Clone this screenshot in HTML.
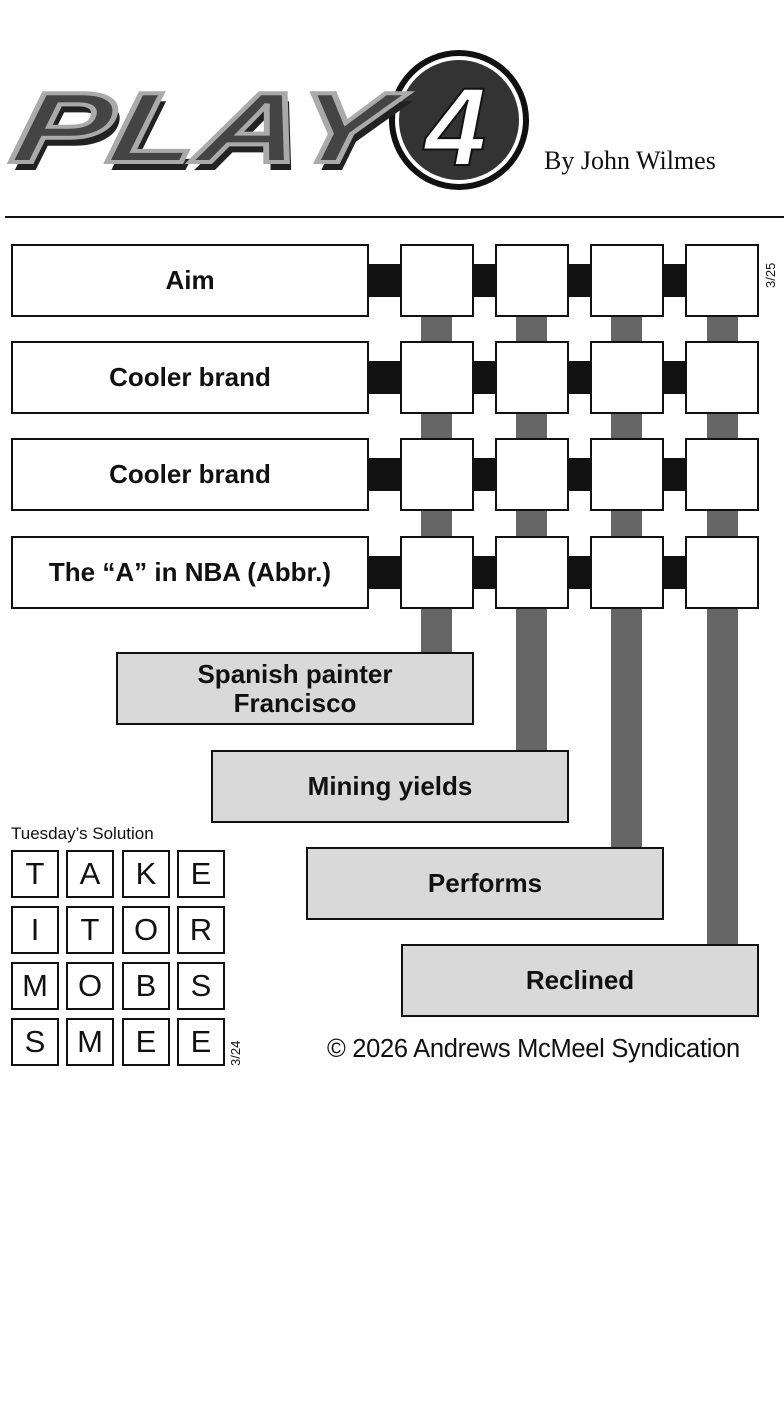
<!DOCTYPE html>
<html><head><meta charset="utf-8"><style>
body{margin:0;width:784px;height:1423px;background:#fff;position:relative;overflow:hidden;font-family:"Liberation Sans",sans-serif}
.a{position:absolute;box-sizing:border-box}
.clue{border:2.5px solid #111;background:#fff;display:flex;align-items:center;justify-content:center;font-weight:bold;font-size:26px;color:#111;text-align:center;line-height:29px}
.sq{border:2.5px solid #111;background:#fff}
.blk{background:#111}
.bar{background:#666}
.ans{border:2.5px solid #111;background:#d9d9d9;display:flex;align-items:center;justify-content:center;font-weight:bold;font-size:26px;color:#111;text-align:center;line-height:29px}
.sol{border:2.5px solid #111;background:#fff;display:flex;align-items:center;justify-content:center;font-size:31px;color:#111;width:48px;height:48px}
</style></head><body>
<svg class="a" style="left:0;top:40px" width="560" height="165">
 <circle cx="459" cy="80" r="70" fill="#111"/>
 <circle cx="459" cy="80" r="64" fill="#fff"/>
 <circle cx="459" cy="80" r="60" fill="#333"/>
 <text x="10" y="130" font-family="Liberation Sans" font-weight="bold" font-style="italic" font-size="100" fill="#222" transform="skewX(-12)" textLength="375" lengthAdjust="spacingAndGlyphs" dx="30">PLAY</text>
 <text x="4" y="122" font-family="Liberation Sans" font-weight="bold" font-style="italic" font-size="100" fill="#444" stroke="#aaa" stroke-width="4" transform="skewX(-12)" textLength="375" lengthAdjust="spacingAndGlyphs" dx="30">PLAY</text>
 <text x="425" y="125" font-family="Liberation Sans" font-weight="bold" font-style="italic" font-size="110" fill="#fff" stroke="#111" stroke-width="2">4</text>
</svg>
<div class="a" style="left:544px;top:146px;font-family:'Liberation Serif',serif;font-size:26px;color:#111">By John Wilmes</div>
<div class="a" style="left:5px;top:216px;width:779px;height:2px;background:#111"></div>

<div class="a bar" style="left:421px;top:300px;width:31px;height:354px"></div>
<div class="a bar" style="left:516px;top:300px;width:31px;height:452px"></div>
<div class="a bar" style="left:611px;top:300px;width:31px;height:549px"></div>
<div class="a bar" style="left:707px;top:300px;width:31px;height:646px"></div>

<div id="rows"></div>
<script>
var ys=[244,341,438,536],cl=['Aim','Cooler brand','Cooler brand','The “A” in NBA (Abbr.)'],xs=[400,495,590,685],h='';
ys.forEach(function(y,i){
 h+='<div class="a blk" style="left:365px;top:'+(y+20)+'px;width:322px;height:33px"></div>';
 h+='<div class="a clue" style="left:11px;top:'+y+'px;width:358px;height:73px">'+cl[i]+'</div>';
 xs.forEach(function(x){h+='<div class="a sq" style="left:'+x+'px;top:'+y+'px;width:74px;height:73px"></div>';});
});
document.getElementById('rows').outerHTML=h;
</script>
<div class="a" style="left:763px;top:288px;font-size:13px;color:#111;transform:rotate(-90deg);transform-origin:left top">3/25</div>

<div class="a ans" style="left:116px;top:652px;width:358px;height:73px">Spanish painter<br>Francisco</div>
<div class="a ans" style="left:211px;top:750px;width:358px;height:73px">Mining yields</div>
<div class="a ans" style="left:306px;top:847px;width:358px;height:73px">Performs</div>
<div class="a ans" style="left:401px;top:944px;width:358px;height:73px">Reclined</div>

<div class="a" style="left:11px;top:824px;font-size:17px;color:#111">Tuesday’s Solution</div>
<div id="sol"></div>
<script>
var L=['TAKE','ITOR','MOBS','SMEE'],sx=[11,66,122,177],sy=[850,906,962,1018],s='';
L.forEach(function(w,r){for(var c=0;c<4;c++)s+='<div class="a sol" style="left:'+sx[c]+'px;top:'+sy[r]+'px">'+w[c]+'</div>';});
document.getElementById('sol').outerHTML=s;
</script>
<div class="a" style="left:228px;top:1066px;font-size:13px;color:#111;transform:rotate(-90deg);transform-origin:left top">3/24</div>
<div class="a" style="left:327px;top:1035px;font-size:25.5px;color:#111;letter-spacing:-0.3px">© 2026 Andrews McMeel Syndication</div>
</body></html>
